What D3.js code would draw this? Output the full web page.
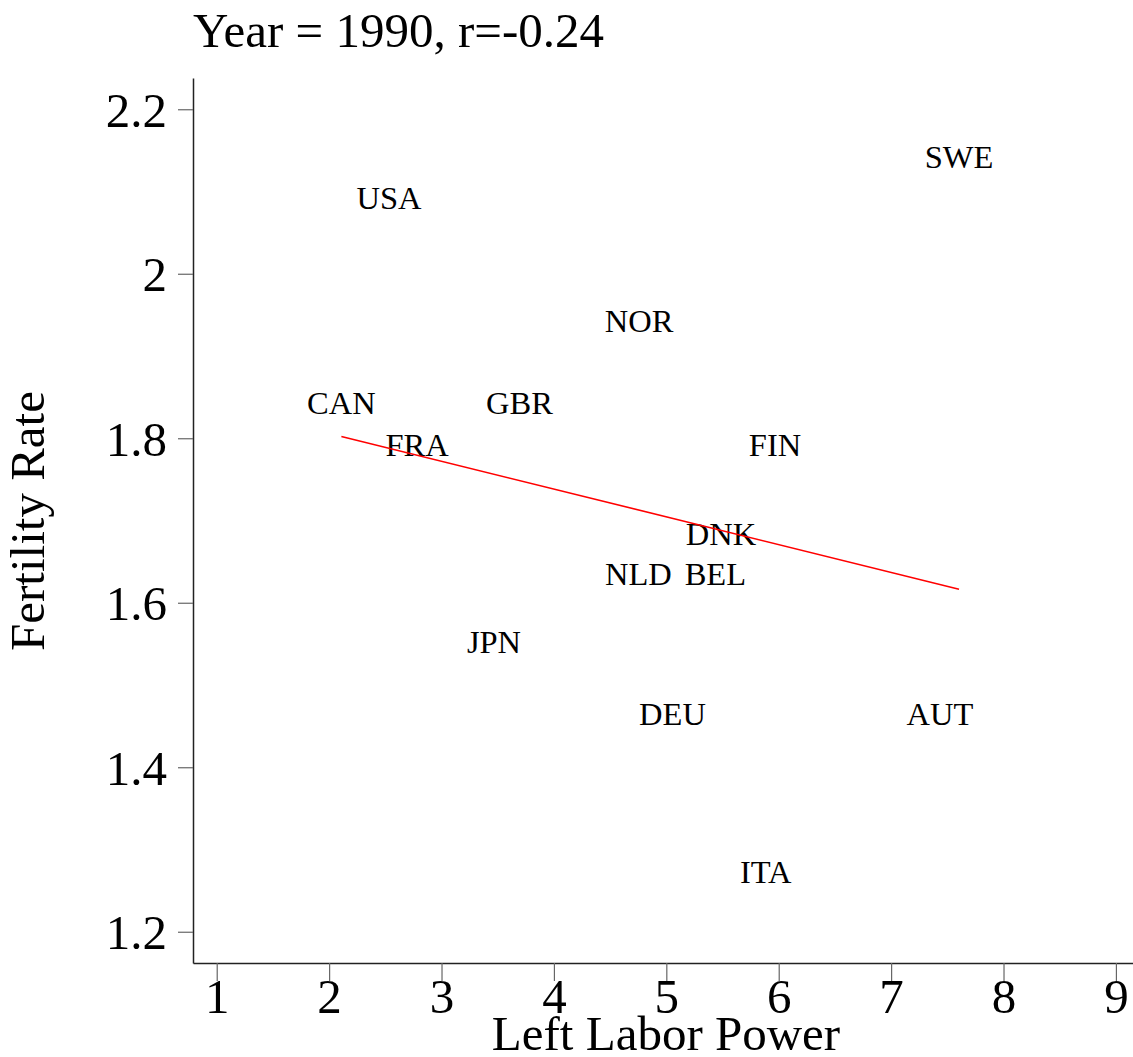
<!DOCTYPE html>
<html>
<head>
<meta charset="utf-8">
<script src="https://cdn.jsdelivr.net/npm/d3@7"></script>
<style>
  html, body { margin: 0; padding: 0; background: #fff; }
  svg { display: block; }
  text { font-family: "Liberation Serif", "Times New Roman", serif; fill: #000; }
</style>
</head>
<body>
<script>
// ---- data ----
const countries = ["USA","SWE","NOR","CAN","GBR","FRA","FIN","DNK","NLD","BEL","JPN","DEU","AUT","ITA"];
const leftLaborPower = [2.533,7.604,4.757,2.109,3.694,2.782,5.967,5.487,4.751,5.436,3.467,5.055,7.435,5.885];
const fertilityRate  = [2.079,2.129,1.929,1.830,1.829,1.779,1.778,1.670,1.621,1.621,1.539,1.451,1.451,1.259];
const xTicks = [1,2,3,4,5,6,7,8,9];
const yTicks = [1.2,1.4,1.6,1.8,2,2.2];
const titleText = "Year = 1990, r=-0.24";
const xTitle = "Left Labor Power";
const yTitle = "Fertility Rate";

const W = 1133, H = 1057;
const svg = d3.select("body").append("svg").attr("width", W).attr("height", H);

const x = d3.scaleLinear().domain([0.789, 9.152]).range([193, 1133]);
const y = d3.scaleLinear().domain([1.162, 2.238]).range([963, 78]);

// axes
const xAxis = svg.append("g").attr("transform", "translate(0,963)")
  .call(d3.axisBottom(x).tickValues(xTicks).tickSize(18).tickSizeOuter(0).tickPadding(0).tickFormat(d3.format("d")));
xAxis.select(".domain").attr("stroke", "#222").attr("stroke-width", 1.5);
xAxis.selectAll(".tick line").attr("stroke", "#666").attr("stroke-width", 1.2);
xAxis.selectAll(".tick text").attr("font-size", 49).attr("y", 50).attr("dy", 0)
  .attr("font-family", "Liberation Serif").attr("fill", "#000");

const yAxis = svg.append("g").attr("transform", "translate(193,0)")
  .call(d3.axisLeft(y).tickValues(yTicks).tickSize(15).tickSizeOuter(0).tickPadding(0).tickFormat(d => d3.format("")(d)));
yAxis.select(".domain").attr("stroke", "#222").attr("stroke-width", 1.5);
yAxis.selectAll(".tick line").attr("stroke", "#666").attr("stroke-width", 1.2);
yAxis.selectAll(".tick text").attr("font-size", 49).attr("x", -26).attr("dy", 17)
  .attr("font-family", "Liberation Serif").attr("fill", "#000");

// labels as markers
const pts = countries.map((c, i) => ({c, x: leftLaborPower[i], y: fertilityRate[i]}));
svg.append("g").selectAll("text").data(pts).join("text")
  .attr("x", d => x(d.x)).attr("y", d => y(d.y))
  .attr("text-anchor", "middle")
  .attr("font-size", 32.5)
  .text(d => d.c);

// OLS fit line
const mx = d3.mean(leftLaborPower), my = d3.mean(fertilityRate);
let sxy = 0, sxx = 0;
leftLaborPower.forEach((v, i) => { sxy += (v - mx) * (fertilityRate[i] - my); sxx += (v - mx) * (v - mx); });
const b = sxy / sxx, a = my - b * mx;
const [x0, x1] = d3.extent(leftLaborPower);
svg.append("path")
  .datum([[x0, a + b * x0], [x1, a + b * x1]])
  .attr("d", d3.line().x(d => x(d[0])).y(d => y(d[1])))
  .attr("stroke", "#ff0000").attr("stroke-width", 1.6).attr("fill", "none");

// titles
svg.append("text").attr("x", 193).attr("y", 47).attr("font-size", 49).text(titleText);
svg.append("text").attr("x", 666).attr("y", 1050).attr("text-anchor", "middle").attr("font-size", 49).text(xTitle);
svg.append("text").attr("transform", "translate(44,521) rotate(-90)").attr("text-anchor", "middle").attr("font-size", 49).text(yTitle);
</script>
</body>
</html>
